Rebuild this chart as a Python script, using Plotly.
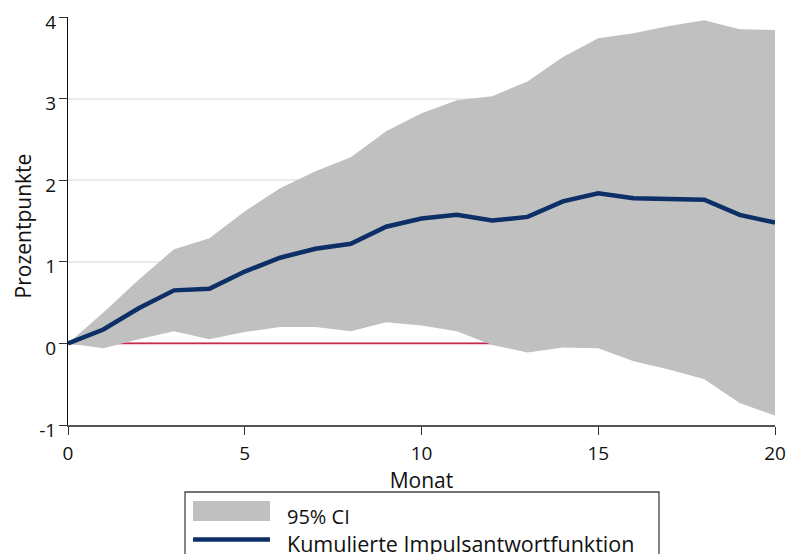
import plotly.graph_objects as go

# ---- data ----
months = list(range(0, 21))
irf_mean = [0.0, 0.17, 0.43, 0.65, 0.67, 0.88, 1.05, 1.16, 1.22, 1.43, 1.53,
            1.575, 1.505, 1.55, 1.74, 1.84, 1.78, 1.77, 1.76, 1.575, 1.48]
ci_upper = [0.0, 0.38, 0.78, 1.155, 1.29, 1.62, 1.90, 2.11, 2.28, 2.60, 2.82,
            2.98, 3.03, 3.21, 3.51, 3.74, 3.80, 3.89, 3.96, 3.85, 3.84]
ci_lower = [0.0, -0.06, 0.05, 0.15, 0.05, 0.14, 0.20, 0.20, 0.15, 0.26, 0.22,
            0.15, -0.02, -0.11, -0.05, -0.06, -0.22, -0.32, -0.44, -0.73, -0.885]
baseline = [0.0] * len(months)

x_ticks = [0, 5, 10, 15, 20]
y_ticks = [-1, 0, 1, 2, 3, 4]
y_range = [-1, 4]

legend_labels = ["95% CI", "Kumulierte Impulsantwortfunktion"]

BAND = "#c0c0c0"
NAVY = "#0b2f66"
RED = "#c8294f"
FONT = "Open Sans"

fig = go.Figure()
fig.add_trace(go.Scatter(x=months, y=baseline, mode="lines",
                         line=dict(color=RED, width=1.8), showlegend=False,
                         hoverinfo="skip"))
fig.add_trace(go.Scatter(x=months, y=ci_lower, mode="lines",
                         line=dict(width=0, color=BAND), showlegend=False,
                         hoverinfo="skip"))
fig.add_trace(go.Scatter(x=months, y=ci_upper, mode="lines", fill="tonexty",
                         fillcolor=BAND, line=dict(width=0, color=BAND),
                         name=legend_labels[0], showlegend=False))
fig.add_trace(go.Scatter(x=months, y=irf_mean, mode="lines",
                         line=dict(color=NAVY, width=4.5),
                         name=legend_labels[1], showlegend=False))
# invisible carrier so the label axis (y2) is drawn
fig.add_trace(go.Scatter(x=months, y=baseline, yaxis="y2", mode="lines",
                         line=dict(width=0), opacity=0, showlegend=False,
                         hoverinfo="skip"))

W, H = 789, 554
# plot area in page pixels (from the reference)
PLOT_L, PLOT_R, PLOT_T, PLOT_B = 68, 775, 17, 425
EXTRA = 10          # extra room below so the label axis can sit 5px lower
SHIFT = 5           # reference prints y tick labels ~5px below their ticks
ML, MR, MT = PLOT_L, W - PLOT_R, PLOT_T
MB = H - PLOT_B - EXTRA
PW = W - ML - MR
PH = H - MT - MB     # area height incl. the extra room


def px(x):  # page pixel -> paper x
    return (x - ML) / PW


def py(y):  # page pixel -> paper y
    return (H - MB - y) / PH


shapes = [
    # legend box
    dict(type="rect", xref="paper", yref="paper",
         x0=px(185), x1=px(659), y0=py(570), y1=py(492),
         line=dict(color="#444444", width=1.3), fillcolor="rgba(0,0,0,0)"),
    # CI swatch
    dict(type="rect", xref="paper", yref="paper",
         x0=px(193), x1=px(270), y0=py(521), y1=py(501),
         line=dict(width=0), fillcolor=BAND),
    # line swatch
    dict(type="line", xref="paper", yref="paper",
         x0=px(193), x1=px(270), y0=py(539.5), y1=py(539.5),
         line=dict(color=NAVY, width=4.5)),
]

annotations = [
    dict(text=legend_labels[0], xref="paper", yref="paper", x=px(285), y=py(516.5),
         xanchor="left", yanchor="middle", showarrow=False,
         font=dict(family=FONT, size=20, color="#111111")),
    dict(text=legend_labels[1], xref="paper", yref="paper", x=px(285), y=py(543.5),
         xanchor="left", yanchor="middle", showarrow=False,
         font=dict(family=FONT, size=21.5, color="#111111")),
]

fig.update_layout(
    width=W, height=H,
    margin=dict(l=ML, r=MR, t=MT, b=MB, autoexpand=False),
    paper_bgcolor="white", plot_bgcolor="rgba(0,0,0,0)",
    font=dict(family=FONT, color="#111111"),
    showlegend=False,
    shapes=shapes, annotations=annotations,
    xaxis=dict(
        range=[0, 20], tickvals=x_ticks, ticktext=[str(v) for v in x_ticks],
        showgrid=False, zeroline=False, showline=True, linecolor="#555555",
        linewidth=1.5, ticks="outside", ticklen=8, tickwidth=1.3, tickcolor="#333333",
        tickfont=dict(size=19, family=FONT, color="#111111"),
        ticklabeloverflow="allow", ticklabelstandoff=2,
        title=dict(text="Monat", font=dict(size=21, family=FONT, color="#111111"),
                   standoff=0),
        automargin=False,
    ),
    yaxis=dict(
        domain=[EXTRA / PH, 1],
        range=y_range, tickvals=y_ticks,
        showgrid=True, gridcolor="#ebebeb", gridwidth=1.5, zeroline=False,
        showline=True, linecolor="#111111", linewidth=1.3,
        ticks="outside", ticklen=8, tickwidth=1.3, tickcolor="#333333",
        showticklabels=False,
        automargin=False,
    ),
    yaxis2=dict(
        domain=[(EXTRA - SHIFT) / PH, 1 - SHIFT / PH],
        anchor="free", position=0, side="left",
        range=y_range,
        tickvals=y_ticks, ticktext=[str(v) for v in y_ticks],
        showgrid=False, zeroline=False, showline=False,
        ticks="outside", ticklen=8, tickcolor="rgba(0,0,0,0)",
        tickfont=dict(size=19, family=FONT, color="#111111"),
        ticklabeloverflow="allow",
        title=dict(text="Prozentpunkte", font=dict(size=21, family=FONT, color="#111111"),
                   standoff=0),
        automargin=False,
    ),
)

fig.write_html("out.html", config={"displayModeBar": False},
               post_script="document.body.style.margin='0';")
